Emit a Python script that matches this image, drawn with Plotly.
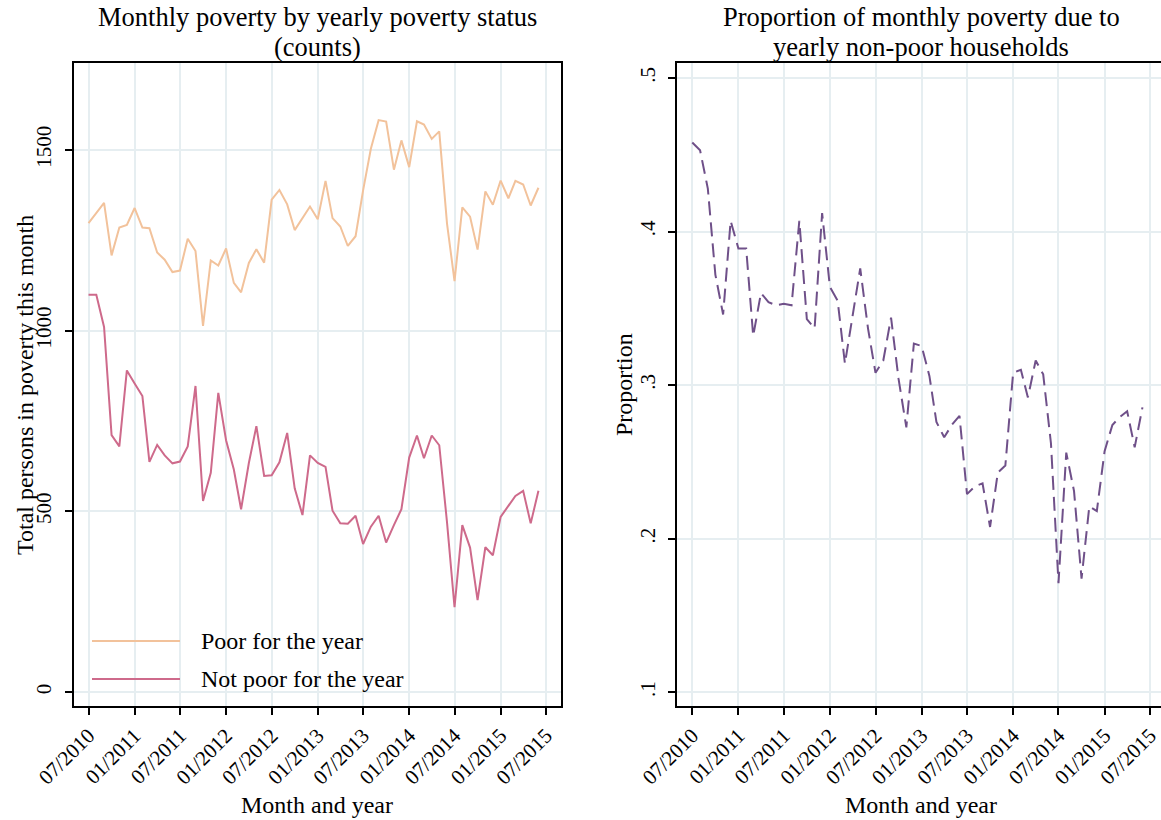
import pandas as pd
import plotly.graph_objects as go

# ---- data -------------------------------------------------------------
months = pd.date_range("2010-07-01", periods=60, freq="MS")

poor_for_year = [1297, 1325, 1353, 1208, 1285, 1292, 1339, 1285, 1283, 1216,
                 1196, 1162, 1166, 1254, 1220, 1013, 1194, 1180, 1227, 1132,
                 1106, 1187, 1225, 1188, 1362, 1389, 1349, 1278, 1311, 1343,
                 1308, 1414, 1311, 1288, 1234, 1261, 1388, 1503, 1582, 1578,
                 1445, 1526, 1452, 1579, 1570, 1530, 1551, 1296, 1137, 1341,
                 1315, 1224, 1385, 1348, 1415, 1366, 1414, 1404, 1346, 1395]

not_poor_for_year = [1099, 1099, 1010, 711, 680, 890, 854, 819, 637, 684,
                     655, 633, 638, 680, 847, 529, 607, 828, 697, 616,
                     506, 634, 736, 598, 600, 636, 717, 564, 490, 655,
                     634, 623, 502, 467, 466, 488, 410, 458, 488, 414,
                     462, 506, 649, 710, 647, 710, 683, 470, 235, 462,
                     400, 255, 401, 379, 485, 516, 543, 557, 467, 557]

proportion_nonpoor = [0.458, 0.453, 0.428, 0.372, 0.346, 0.407, 0.389, 0.389, 0.332, 0.360,
                      0.354, 0.352, 0.353, 0.352, 0.407, 0.343, 0.337, 0.412, 0.364, 0.355,
                      0.314, 0.346, 0.376, 0.337, 0.308, 0.316, 0.344, 0.304, 0.2725, 0.327,
                      0.3255, 0.306, 0.276, 0.266, 0.274, 0.280, 0.229, 0.234, 0.236, 0.2076,
                      0.243, 0.2476, 0.308, 0.310, 0.292, 0.316, 0.307, 0.262, 0.171, 0.256,
                      0.231, 0.174, 0.221, 0.218, 0.257, 0.274, 0.279, 0.283, 0.2595, 0.2855]

tick_dates = pd.date_range("2010-07-01", "2015-07-01", freq="6MS")
tick_labels = [d.strftime("%m/%Y") for d in tick_dates]

count_ticks = [0, 500, 1000, 1500]
prop_ticks = [0.1, 0.2, 0.3, 0.4, 0.5]
prop_tick_text = [".1", ".2", ".3", ".4", ".5"]

# ---- styling ----------------------------------------------------------
W, H = 1161, 820
FONT = "Liberation Serif"
GRID = "#E6EEF1"
C_POOR = "#F2C29B"
C_NOTPOOR = "#CE6A8B"
C_PROP = "#6F5089"


def fx(px):
    return px / W


def fy(py):
    return 1 - py / H


fig = go.Figure()

fig.add_trace(go.Scatter(x=months, y=poor_for_year, mode="lines",
                         line=dict(color=C_POOR, width=2),
                         name="Poor for the year", xaxis="x", yaxis="y"))
fig.add_trace(go.Scatter(x=months, y=not_poor_for_year, mode="lines",
                         line=dict(color=C_NOTPOOR, width=2),
                         name="Not poor for the year", xaxis="x", yaxis="y"))
fig.add_trace(go.Scatter(x=months, y=proportion_nonpoor, mode="lines",
                         line=dict(color=C_PROP, width=2, dash="14px,7px"),
                         name="Proportion", xaxis="x2", yaxis="y2"))

common_x = dict(
    type="date", automargin=False, ticklabeloverflow="allow",
    tickvals=list(tick_dates), ticktext=tick_labels, tickangle=-45,
    ticks="outside", ticklen=7, tickwidth=1.5, tickcolor="black",
    showgrid=True, gridcolor=GRID, gridwidth=2,
    showline=True, linecolor="black", linewidth=2, mirror=True,
    zeroline=False,
    tickfont=dict(family=FONT, size=21, color="black"),
)
common_y = dict(
    automargin=False, ticklabeloverflow="allow",
    ticks="outside", ticklen=7, tickwidth=1.5, tickcolor="black",
    showgrid=True, gridcolor=GRID, gridwidth=2,
    showline=True, linecolor="black", linewidth=2,
    zeroline=False, tickangle=-90, ticklabelstandoff=5,
    tickfont=dict(family=FONT, size=21, color="black"),
)

fig.update_layout(
    width=W, height=H,
    margin=dict(l=0, r=0, t=0, b=0, autoexpand=False),
    paper_bgcolor="white", plot_bgcolor="white",
    showlegend=False,
    font=dict(family=FONT, color="black"),
    xaxis=dict(common_x, domain=[fx(73.5), fx(560.5)], anchor="y",
               range=["2010-05-02", "2015-08-28"]),
    yaxis=dict(common_y, domain=[fy(706), fy(63)], anchor="x", mirror=True,
               range=[-38, 1740], tickvals=count_ticks,
               ticktext=[str(v) for v in count_ticks]),
    xaxis2=dict(common_x, domain=[fx(677), 1.0], anchor="y2",
                range=["2010-05-01", "2015-08-14"]),
    yaxis2=dict(common_y, domain=[fy(706), fy(63)], anchor="x2", mirror=False,
                range=[0.091, 0.5098], tickvals=prop_ticks,
                ticktext=prop_tick_text),
)

ann = []
# panel titles, one annotation per line
ann.append(dict(text="Monthly poverty by yearly poverty status", x=fx(317), y=fy(16.5)))
ann.append(dict(text="(counts)", x=fx(317), y=fy(46.5)))
ann.append(dict(text="Proportion of monthly poverty due to", x=fx(921), y=fy(16.5)))
ann.append(dict(text="yearly non-poor households", x=fx(921), y=fy(46.5)))
for a in ann:
    a.update(xref="paper", yref="paper", xanchor="center", yanchor="middle",
             showarrow=False, borderpad=0,
             font=dict(family=FONT, size=26.5, color="black"))

axis_titles = [
    dict(text="Month and year", x=fx(317), y=fy(805), textangle=0),
    dict(text="Month and year", x=fx(921), y=fy(805), textangle=0),
    dict(text="Total persons in poverty this month", x=fx(25), y=fy(385), textangle=-90),
    dict(text="Proportion", x=fx(624), y=fy(385), textangle=-90),
]
for a in axis_titles:
    a.update(xref="paper", yref="paper", xanchor="center", yanchor="middle",
             showarrow=False, font=dict(family=FONT, size=24, color="black"))
ann.extend(axis_titles)

# legend drawn inside the counts panel
legend_items = [("Poor for the year", C_POOR, 641), ("Not poor for the year", C_NOTPOOR, 679)]
shapes = []
for label, color, ypx in legend_items:
    shapes.append(dict(type="line", xref="paper", yref="paper",
                       x0=fx(92), x1=fx(180), y0=fy(ypx), y1=fy(ypx),
                       line=dict(color=color, width=2)))
    ann.append(dict(text=label, xref="paper", yref="paper", x=fx(199), y=fy(ypx),
                    xanchor="left", yanchor="middle", showarrow=False,
                    font=dict(family=FONT, size=24, color="black")))

fig.update_layout(annotations=ann, shapes=shapes)

fig.write_html("out.html")
